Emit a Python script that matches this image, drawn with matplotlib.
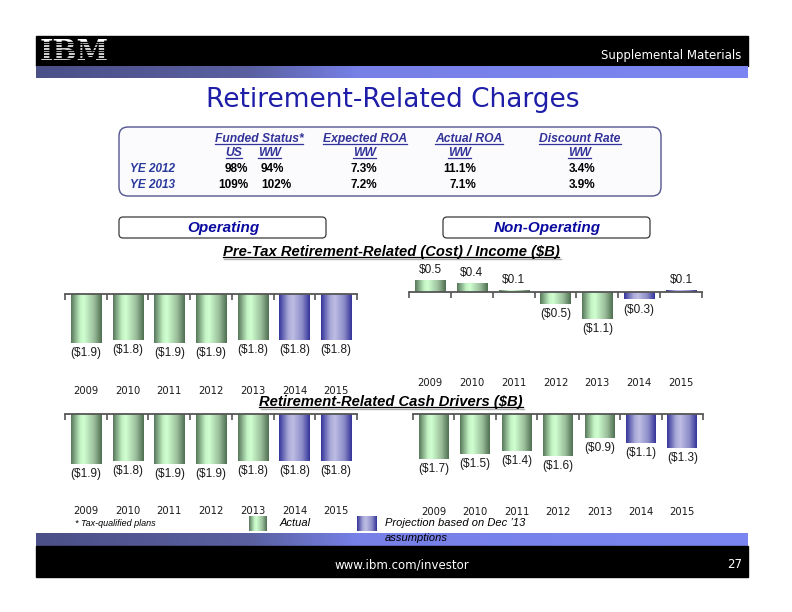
import numpy as np
import matplotlib
matplotlib.use("Agg")
import matplotlib.pyplot as plt
from matplotlib.colors import LinearSegmentedColormap
from matplotlib.patches import FancyBboxPatch, Rectangle

# ---- data ----
years = [2009, 2010, 2011, 2012, 2013, 2014, 2015]
is_projection = [False, False, False, False, False, True, True]

pretax_operating = [-1.9, -1.8, -1.9, -1.9, -1.8, -1.8, -1.8]
pretax_non_operating = [0.5, 0.4, 0.1, -0.5, -1.1, -0.3, 0.1]
cash_operating = [-1.9, -1.8, -1.9, -1.9, -1.8, -1.8, -1.8]
cash_non_operating = [-1.7, -1.5, -1.4, -1.6, -0.9, -1.1, -1.3]

table_rows = ["YE 2012", "YE 2013"]
funded_us = ["98%", "109%"]
funded_ww = ["94%", "102%"]
expected_roa_ww = ["7.3%", "7.2%"]
actual_roa_ww = ["11.1%", "7.1%"]
discount_rate_ww = ["3.4%", "3.9%"]

W, H = 792, 612
ARIAL = "Liberation Sans"
TAHOMA = "DejaVu Sans"

green_cm = LinearSegmentedColormap.from_list(
    "g", [(0, "#56765a"), (0.3, "#c4f4c4"), (0.42, "#cfffd0"), (0.75, "#9abd9a"), (1, "#4e6e50")])
blue_cm = LinearSegmentedColormap.from_list(
    "b", [(0, "#34349a"), (0.3, "#a9a9d8"), (0.45, "#bdbde4"), (0.75, "#8c8cc8"), (1, "#32329a")])
band_cm = LinearSegmentedColormap.from_list(
    "band", [(0, "#4c5088"), (0.3, "#5a60a0"), (0.45, "#7680e6"), (1, "#7b86f2")])
grad = np.linspace(0, 1, 256).reshape(1, -1)

fig = plt.figure(figsize=(W / 100, H / 100), dpi=100)
bg = fig.add_axes([0, 0, 1, 1])
bg.set_xlim(0, W)
bg.set_ylim(H, 0)
bg.axis("off")


def px_axes(x0, y0, x1, y1):
    return fig.add_axes([x0 / W, 1 - y1 / H, (x1 - x0) / W, (y1 - y0) / H])


# ---- header / footer bands ----
bg.add_patch(Rectangle((36, 36), 712, 30, color="black", zorder=1))
bg.imshow(grad, cmap=band_cm, extent=[36, 748, 78, 66], aspect="auto", zorder=1)
bg.imshow(grad, cmap=band_cm, extent=[36, 748, 546, 533], aspect="auto", zorder=1)
bg.add_patch(Rectangle((36, 546), 712, 31, color="black", zorder=1))

bg.text(40, 52, "IBM", family="DejaVu Serif", weight="bold", fontsize=20.5,
        color="white", va="center", ha="left", zorder=2)
for yy in np.arange(41.6, 64, 2.7):
    bg.plot([38, 110], [yy, yy], color="black", lw=1.0, zorder=3)
bg.text(741, 55, "Supplemental Materials", family=TAHOMA, fontsize=8.5,
        color="white", ha="right", va="center", zorder=2)
bg.text(402, 565, "www.ibm.com/investor", family=TAHOMA, fontsize=8.5,
        color="white", ha="center", va="center", zorder=2)
bg.text(742, 565, "27", family=TAHOMA, fontsize=8.5,
        color="white", ha="right", va="center", zorder=2)

# ---- title ----
bg.text(393, 100, "Retirement-Related Charges", family=TAHOMA, fontsize=19,
        color="#1e1ea8", ha="center", va="center")

# ---- assumptions table ----
bg.add_patch(FancyBboxPatch((119, 127), 542, 69, boxstyle="round,pad=0,rounding_size=9",
                            fc="#fbfbfe", ec="#54548e", lw=1.0, zorder=1))
hdr = dict(family=ARIAL, fontsize=8.7, weight="bold", style="italic",
           color="#333399", va="center", zorder=3)
underlined = []
underlined.append(bg.text(259, 139, "Funded Status*", ha="center", **hdr))
underlined.append(bg.text(365, 139, "Expected ROA", ha="center", **hdr))
underlined.append(bg.text(469, 139, "Actual ROA", ha="center", **hdr))
underlined.append(bg.text(580, 139, "Discount Rate", ha="center", **hdr))
underlined.append(bg.text(234, 153, "US", ha="center", **hdr))
underlined.append(bg.text(270, 153, "WW", ha="center", **hdr))
underlined.append(bg.text(365, 153, "WW", ha="center", **hdr))
underlined.append(bg.text(460, 153, "WW", ha="center", **hdr))
underlined.append(bg.text(580, 153, "WW", ha="center", **hdr))

cell = dict(family=ARIAL, fontsize=8.5, weight="bold", color="black", va="center", zorder=3)
for i, row in enumerate(table_rows):
    y = 169 + 16 * i
    bg.text(130, y, row, family=ARIAL, fontsize=8.5, weight="bold", style="italic",
            color="#2a3a9c", ha="left", va="center", zorder=3)
    bg.text(248, y, funded_us[i], ha="right", **cell)
    bg.text(261, y, funded_ww[i], ha="left", **cell)
    bg.text(364, y, expected_roa_ww[i], ha="center", **cell)
    bg.text(476, y, actual_roa_ww[i], ha="right", **cell)
    bg.text(582, y, discount_rate_ww[i], ha="center", **cell)

# ---- section boxes ----
for x0, label in [(119, "Operating"), (443, "Non-Operating")]:
    bg.add_patch(FancyBboxPatch((x0, 217), 207, 21, boxstyle="round,pad=0,rounding_size=4",
                                fc="white", ec="#3a3a3a", lw=0.9, zorder=1))
    bg.text(x0 + 104, 228, label, family=ARIAL, fontsize=11, weight="bold",
            style="italic", color="#0a0aa0", ha="center", va="center", zorder=3)

sub = dict(family=ARIAL, fontsize=10.6, weight="bold", style="italic",
           color="black", ha="center", va="center", zorder=3)
subtitles = [bg.text(391, 252, "Pre-Tax Retirement-Related (Cost) / Income ($B)", **sub),
             bg.text(391, 402, "Retirement-Related Cash Drivers ($B)", **sub)]

# ---- legend / footnote ----
bg.text(75, 524, "* Tax-qualified plans", family=ARIAL, fontsize=6.5, style="italic",
        ha="left", va="center")
bg.imshow(grad, cmap=green_cm, extent=[249, 267, 531, 516], aspect="auto", zorder=2)
bg.text(280, 523, "Actual", family=ARIAL, fontsize=8, style="italic", ha="left", va="center")
bg.imshow(grad, cmap=blue_cm, extent=[357, 377, 531, 516], aspect="auto", zorder=2)
bg.text(385, 523, "Projection based on Dec \u201913", family=ARIAL, fontsize=8,
        style="italic", ha="left", va="center", zorder=3)
bg.text(385, 538, "assumptions", family=ARIAL, fontsize=8, style="italic",
        ha="left", va="center", zorder=3)
bg.set_xlim(0, W)
bg.set_ylim(H, 0)


# ---- bar charts ----
def bar_chart(x0, x1, zero_px, top_px, bottom_px, scale, values):
    ax = px_axes(x0, top_px, x1, bottom_px)
    ax.set_facecolor("none")
    n = len(values)
    pos = np.arange(n)
    bars = ax.bar(pos, values, width=0.72, color="none", linewidth=0)
    for b, proj in zip(bars, is_projection):
        im = ax.imshow(grad, cmap=blue_cm if proj else green_cm, aspect="auto",
                       extent=[b.get_x(), b.get_x() + b.get_width(), 0, b.get_height()],
                       zorder=2)
        im.set_clip_path(b)
    for p, v in zip(pos, values):
        lab = f"${v:.1f}" if v >= 0 else f"(${-v:.1f})"
        ax.annotate(lab, (p, v), xytext=(0, 10 if v >= 0 else -10),
                    textcoords="offset pixels", ha="center", va="center",
                    family=ARIAL, fontsize=8.5, color="#1a1a1a")
    ax.set_xlim(-0.5, n - 0.5)
    ax.set_ylim((zero_px - bottom_px) / scale, (zero_px - top_px) / scale)
    for s in ["left", "right", "bottom"]:
        ax.spines[s].set_visible(False)
    ax.spines["top"].set_position(("data", 0))
    ax.spines["top"].set_color("#555555")
    ax.spines["top"].set_linewidth(1.3)
    ax.spines["top"].set_zorder(3)
    ax.set_yticks([])
    ax.set_xticks(np.arange(n + 1) - 0.5)
    ax.set_xticks(pos, minor=True)
    ax.set_xticklabels([str(y) for y in years], minor=True)
    ax.tick_params(which="major", top=True, bottom=False, direction="in", length=4,
                   width=1.2, color="#555555", labeltop=False, labelbottom=False)
    ax.tick_params(which="minor", top=False, bottom=False, labeltop=False,
                   labelbottom=True, pad=0, labelsize=7.2)
    for t in ax.get_xticklabels(minor=True):
        t.set_family(TAHOMA)
        t.set_color("#1a1a1a")
    return ax


bar_chart(65, 357, 294, 270, 383, 25.8, pretax_operating)
bar_chart(409, 702, 292.3, 262, 375, 24.0, pretax_non_operating)
bar_chart(65, 357, 414.3, 405, 503, 26.2, cash_operating)
bar_chart(413, 703, 414.3, 405, 504, 26.2, cash_non_operating)

# ---- underlines ----
fig.canvas.draw()
renderer = fig.canvas.get_renderer()
inv = bg.transData.inverted()


def underline(t, shadow=False):
    bb = t.get_window_extent(renderer)
    (xa, ya), (xb, yb) = inv.transform([[bb.x0, bb.y0], [bb.x1, bb.y1]])
    em = t.get_fontsize() / 0.72
    yl = ya - 0.12 * em
    if shadow:
        bg.plot([xa + 1.5, xb + 1.5], [yl + 1.5, yl + 1.5], color="#b0b0b0", lw=1.0, zorder=2)
    bg.plot([xa, xb], [yl, yl], color=t.get_color(), lw=0.9, zorder=3)


for t in underlined:
    underline(t)
for t in subtitles:
    underline(t, shadow=True)

fig.savefig("out.png", dpi=100)
